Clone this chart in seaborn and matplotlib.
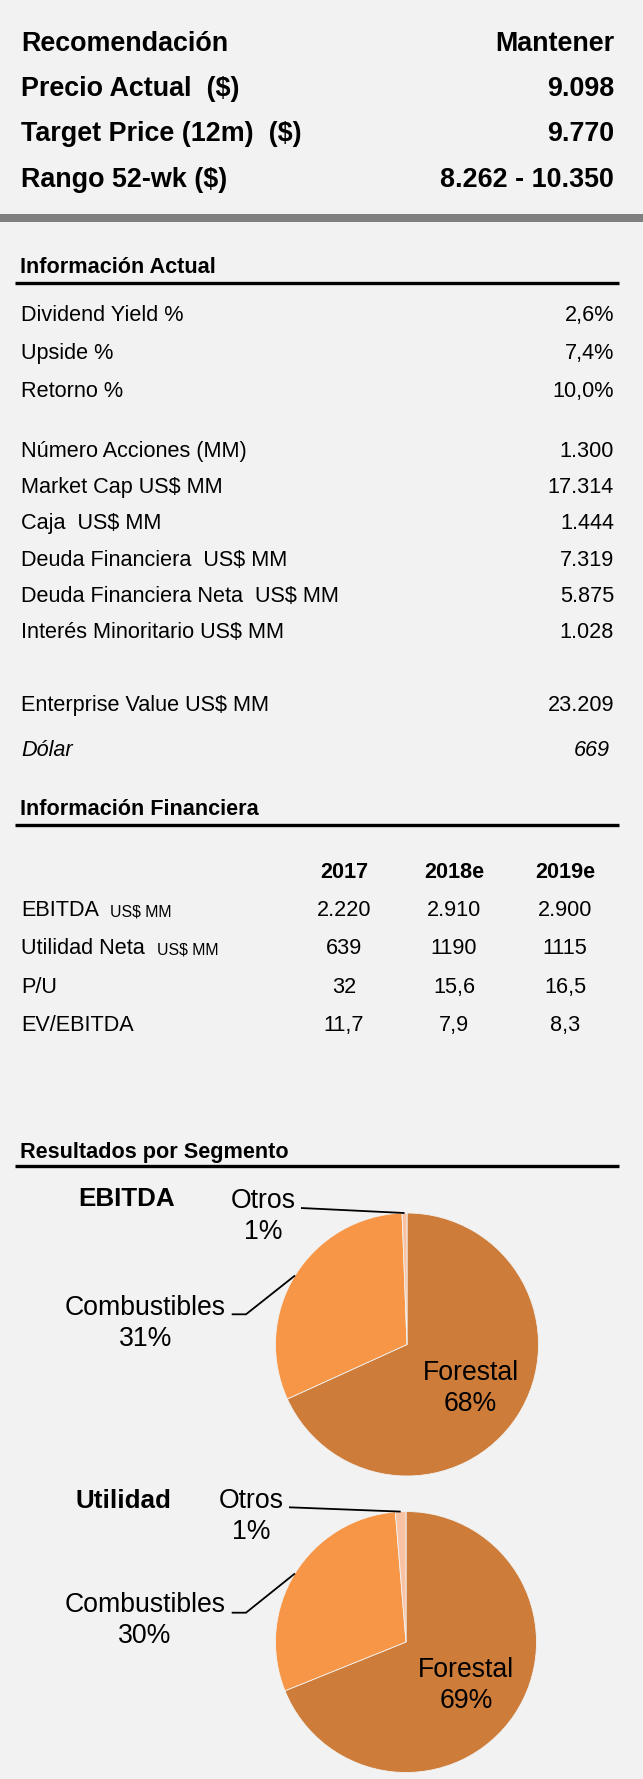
import numpy as np
import matplotlib
matplotlib.use("Agg")
import matplotlib.pyplot as plt
import seaborn as sns

# ---------------- data ----------------
header_labels = ["Recomendación", "Precio Actual  ($)", "Target Price (12m)  ($)", "Rango 52-wk ($)"]
header_values = ["Mantener", "9.098", "9.770", "8.262 - 10.350"]

info_labels = ["Dividend Yield %", "Upside %", "Retorno %",
               "Número Acciones (MM)", "Market Cap US$ MM", "Caja  US$ MM",
               "Deuda Financiera  US$ MM", "Deuda Financiera Neta  US$ MM",
               "Interés Minoritario US$ MM", "Enterprise Value US$ MM", "Dólar"]
info_values = ["2,6%", "7,4%", "10,0%", "1.300", "17.314", "1.444",
               "7.319", "5.875", "1.028", "23.209", "669"]

fin_years = ["2017", "2018e", "2019e"]
fin_rows = ["EBITDA", "Utilidad Neta", "P/U", "EV/EBITDA"]
fin_units = ["US$ MM", "US$ MM", "", ""]
fin_2017 = ["2.220", "639", "32", "11,7"]
fin_2018e = ["2.910", "1190", "15,6", "7,9"]
fin_2019e = ["2.900", "1115", "16,5", "8,3"]

segments = ["Forestal", "Combustibles", "Otros"]
ebitda_share = [68.2, 31.2, 0.6]
utilidad_share = [68.9, 29.8, 1.3]
pie_titles = ["EBITDA", "Utilidad"]

# ---------------- style ----------------
BG = "#F2F2F2"
sns.set_theme(style="white", rc={"figure.facecolor": BG, "axes.facecolor": BG})
plt.rcParams["font.family"] = ["Liberation Sans", "DejaVu Sans"]
seg_colors = sns.color_palette(["#CD7C3A", "#F79646", "#F9C3A3"])

W, H = 643, 1779
fig = plt.figure(figsize=(W / 100, H / 100), dpi=100)
fig.patch.set_facecolor(BG)
ax = fig.add_axes([0, 0, 1, 1])
ax.set_facecolor(BG)


def Y(p):
    return H - p


def txt(x, ycap, s, size, **kw):
    em = size * 100 / 72
    ax.text(x, Y(ycap + 0.344 * em), s, fontsize=size, va="baseline", color="black", **kw)


# ---------------- header block ----------------
hdr_y = [42, 87, 132, 178]
for lab, val, y in zip(header_labels, header_values, hdr_y):
    txt(21, y, lab, 19.4, fontweight="bold", ha="left")
    txt(614, y, val, 19.4, fontweight="bold", ha="right")
ax.fill_between([0, W], Y(214), Y(222), color="#7F7F7F", lw=0)


def section(title, ycap, yline):
    txt(20, ycap, title, 15.6, fontweight="bold", ha="left")
    ax.plot([15, 619], [Y(yline), Y(yline)], color="black", lw=2.4, solid_capstyle="butt")


# ---------------- información actual ----------------
section("Información Actual", 266, 282.5)
info_y = [314, 352, 390, 450, 486, 522, 559, 595, 631, 703.5, 749]
for i, (lab, val, y) in enumerate(zip(info_labels, info_values, info_y)):
    style = "italic" if lab == "Dólar" else "normal"
    txt(21, y, lab, 15.6, ha="left", fontstyle=style)
    txt(614 if style == "normal" else 610, y, val, 15.6, ha="right", fontstyle=style)

# ---------------- información financiera ----------------
section("Información Financiera", 808, 824.5)
col_x = [344, 454, 565]
for yr, x in zip(fin_years, col_x):
    txt(x, 871, yr, 15.6, fontweight="bold", ha="center")
fin_y = [909, 947, 986, 1024]
unit_x = [110, 157]
for i, (lab, unit, y) in enumerate(zip(fin_rows, fin_units, fin_y)):
    txt(21, y, lab, 15.6, ha="left")
    if unit:
        em_big = 15.6 * 100 / 72
        ax.text(unit_x[i], Y(y + 0.344 * em_big), unit, fontsize=11.4,
                va="baseline", ha="left", color="black")
    for vals, x in zip([fin_2017, fin_2018e, fin_2019e], col_x):
        txt(x, y, vals[i], 15.6, ha="center")

# ---------------- resultados por segmento ----------------
section("Resultados por Segmento", 1150.5, 1166)

pies = [
    dict(values=ebitda_share, title=pie_titles[0], title_pos=(127, 1197),
         center=(407, 1344.5), r=131.5,
         label_pos={"Forestal": (470.5, 1371), "Combustibles": (145.6, 1306), "Otros": (263, 1199)},
         otros_start=(301, 1208), comb_start=(231.7, 1314.3), comb_elbow=(246, 1314.3)),
    dict(values=utilidad_share, title=pie_titles[1], title_pos=(123, 1499),
         center=(406, 1642), r=130.5,
         label_pos={"Forestal": (466, 1668), "Combustibles": (145, 1603), "Otros": (251, 1499)},
         otros_start=(289, 1507.3), comb_start=(231.7, 1612.7), comb_elbow=(246, 1612.7)),
]

LABEL_SIZE = 19.2
LINE_GAP = 30.5
for p in pies:
    cx, cy = p["center"]
    wedges, _ = ax.pie(p["values"], colors=seg_colors, startangle=90, counterclock=False,
                       center=(cx, Y(cy)), radius=p["r"], frame=True,
                       wedgeprops=dict(edgecolor=BG, linewidth=0.6))
    txt(p["title_pos"][0], p["title_pos"][1], p["title"], 18.7, fontweight="bold", ha="center")
    for seg, val, w in zip(segments, p["values"], wedges):
        lx, ly = p["label_pos"][seg]
        txt(lx, ly, seg, LABEL_SIZE, ha="center")
        txt(lx, ly + LINE_GAP, f"{val:.0f}%", LABEL_SIZE, ha="center")
        mid = np.deg2rad((w.theta1 + w.theta2) / 2)
        ex = cx + p["r"] * np.cos(mid)
        ey = cy - p["r"] * np.sin(mid)
        if seg == "Otros":
            sx, sy = p["otros_start"]
            ax.plot([sx, ex], [Y(sy), Y(ey)], color="black", lw=1.3, solid_capstyle="butt")
        elif seg == "Combustibles":
            sx, sy = p["comb_start"]
            bx, by = p["comb_elbow"]
            ax.plot([sx, bx, ex], [Y(sy), Y(by), Y(ey)], color="black", lw=1.3,
                    solid_capstyle="butt", solid_joinstyle="miter")

ax.set_xlim(0, W)
ax.set_ylim(0, H)
ax.set_aspect("auto")
ax.set_axis_off()

fig.savefig("out.png", dpi=100, facecolor=BG)
